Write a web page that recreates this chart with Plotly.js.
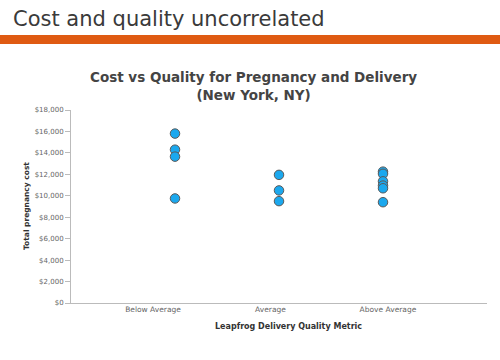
<!DOCTYPE html>
<html>
<head>
<meta charset="utf-8">
<script src="https://cdn.plot.ly/plotly-3.0.1.min.js"></script>
<style>html,body{margin:0;padding:0;background:#fff;}#chart{width:500px;height:360px;}</style>
</head>
<body>
<div id="chart"></div>
<script>
const categories = ["Below Average", "Average", "Above Average"];
const belowAverageCost = [15800, 14300, 13650, 9750];
const averageCost = [11950, 10500, 9500];
const aboveAverageCost = [12250, 12050, 11350, 10950, 10700, 9400];
const yTickValues = [0, 2000, 4000, 6000, 8000, 10000, 12000, 14000, 16000, 18000];

const xs = [], ys = [];
[belowAverageCost, averageCost, aboveAverageCost].forEach((arr, i) => {
  arr.forEach(v => { xs.push(categories[i]); ys.push(v); });
});

const W = 500, H = 360;
const m = {l: 71, r: 13, t: 110, b: 57};
const pw = W - m.l - m.r, ph = H - m.t - m.b;
const px = x => (x - m.l) / pw;
const py = y => (H - m.b - y) / ph;

const font = "DejaVu Sans, Verdana, sans-serif";

const trace = {
  type: "scatter", mode: "markers", x: xs, y: ys,
  marker: {size: 9.5, color: "#1ba8ee", line: {color: "#5a5a5a", width: 1}},
  hoverinfo: "x+y"
};
// carrier trace for the category labels axis (labels sit offset from the marker columns, as in the original)
const labelTrace = {
  type: "scatter", mode: "markers", x: categories, y: categories.map(() => null),
  xaxis: "x2", yaxis: "y", marker: {opacity: 0}, hoverinfo: "skip", showlegend: false
};

const layout = {
  width: W, height: H,
  margin: m,
  paper_bgcolor: "#fff", plot_bgcolor: "#fff",
  showlegend: false,
  font: {family: font, color: "#666", size: 7},
  xaxis: {
    type: "category", range: [-1, 3],
    showline: true, linecolor: "#bbb", linewidth: 1,
    showgrid: false, zeroline: false,
    ticks: "", showticklabels: false
  },
  xaxis2: {
    type: "category", range: [-0.698, 2.843], overlaying: "x", side: "bottom",
    showline: false, showgrid: false, zeroline: false,
    ticks: "", ticklabelstandoff: 0,
    tickfont: {size: 7.5, color: "#666"}
  },
  yaxis: {
    range: [0, 18000], tickvals: yTickValues,
    ticktext: yTickValues.map(v => "$" + v.toLocaleString("en-US")),
    showline: true, linecolor: "#bbb", linewidth: 1,
    showgrid: false, zeroline: false,
    ticks: "outside", ticklen: 5, tickcolor: "#bbb",
    tickfont: {size: 7, color: "#666"}
  },
  shapes: [
    {type: "rect", xref: "paper", yref: "paper",
     x0: px(0), x1: px(W), y0: py(44), y1: py(35),
     fillcolor: "#df5a12", line: {width: 0}, layer: "above"}
  ],
  annotations: [
    {text: "Cost and quality uncorrelated", xref: "paper", yref: "paper",
     x: px(11), y: py(19), xanchor: "left", yanchor: "middle", showarrow: false,
     font: {family: font, size: 21, color: "#3a3a3a"}},
    {text: "<b>Cost vs Quality for Pregnancy and Delivery<br>(New York, NY)</b>", xref: "paper", yref: "paper",
     x: px(253), y: py(85.5), xanchor: "center", yanchor: "middle", showarrow: false,
     font: {family: font, size: 13.5, color: "#444"}},
    {text: "<b>Total pregnancy cost</b>", xref: "paper", yref: "paper", textangle: -90,
     x: px(26), y: py(206), xanchor: "center", yanchor: "middle", showarrow: false,
     font: {family: font, size: 7.5, color: "#333"}},
    {text: "<b>Leapfrog Delivery Quality Metric</b>", xref: "paper", yref: "paper",
     x: px(288), y: py(326), xanchor: "center", yanchor: "middle", showarrow: false,
     font: {family: font, size: 8, color: "#333"}}
  ]
};

Plotly.newPlot("chart", [trace, labelTrace], layout, {displayModeBar: false, staticPlot: true});
</script>
</body>
</html>
